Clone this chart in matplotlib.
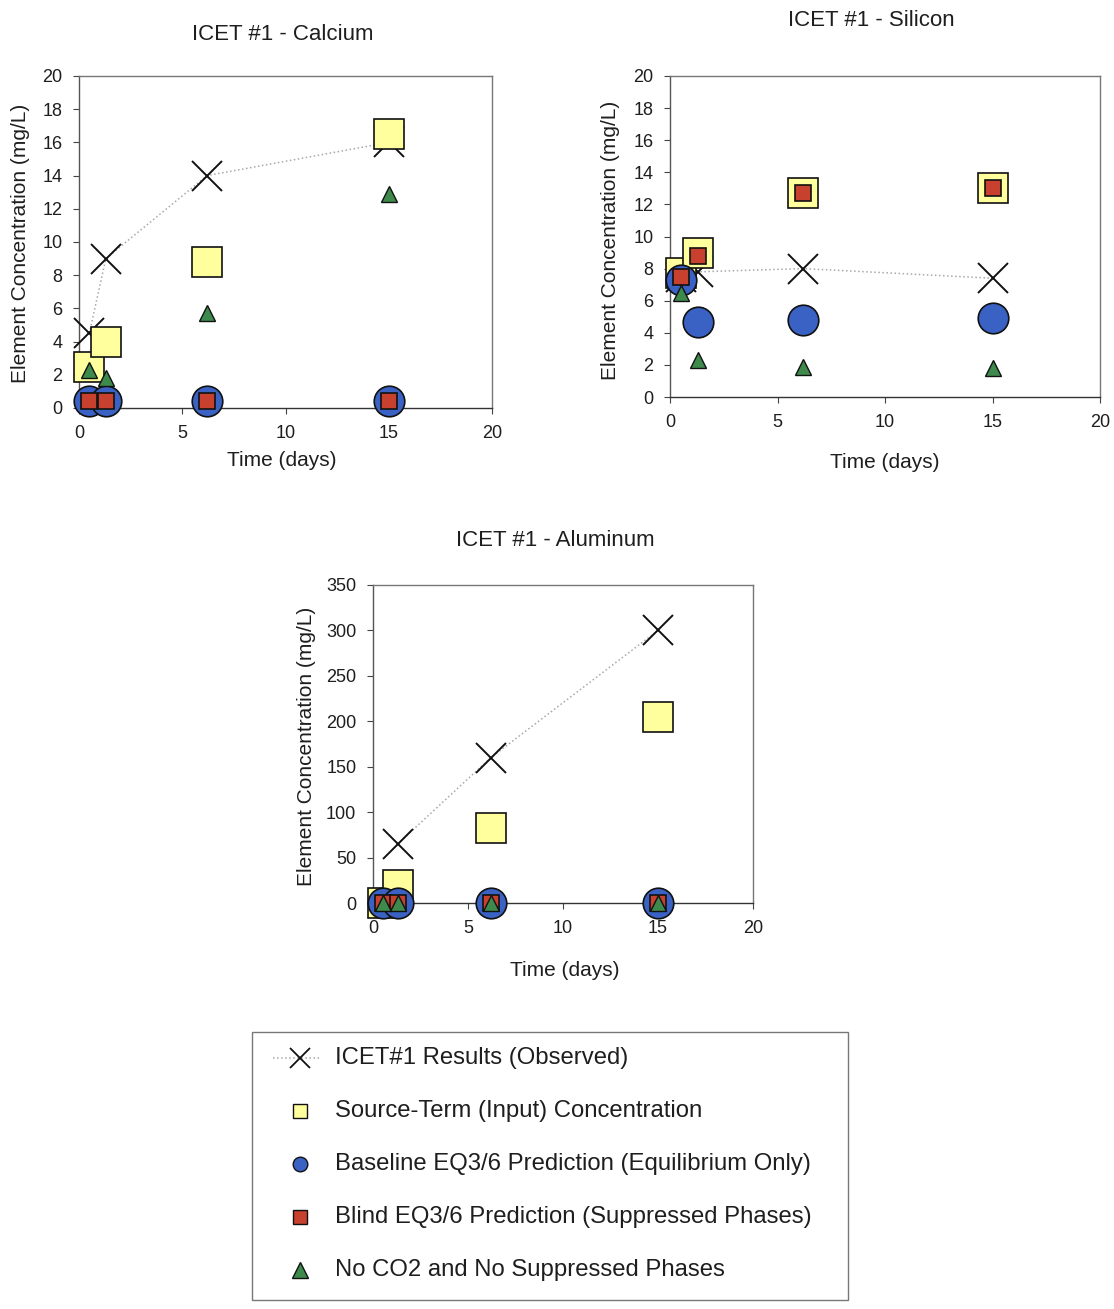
import numpy as np
import matplotlib
matplotlib.use("Agg")
import matplotlib.pyplot as plt
from matplotlib.lines import Line2D
from matplotlib.patches import Rectangle

plt.rcParams['font.family'] = ['Liberation Sans', 'DejaVu Sans']

# ---- data ----
days = [0.5, 1.3, 6.2, 15.0]

ca_obs = [4.5, 9.0, 14.0, 16.0]
ca_src = [2.5, 4.0, 8.8, 16.5]
ca_base = [0.4, 0.4, 0.4, 0.4]
ca_blind = [0.4, 0.4, 0.4, 0.4]
ca_noco2 = [2.3, 1.8, 5.7, 12.9]

si_obs = [7.5, 7.8, 8.0, 7.4]
si_src = [7.7, 9.0, 12.7, 13.0]
si_base = [7.3, 4.7, 4.8, 4.9]
si_blind = [7.5, 8.8, 12.7, 13.0]
si_noco2 = [6.5, 2.3, 1.9, 1.8]

al_obs = [np.nan, 65.0, 160.0, 300.0]
al_src = [0.0, 20.0, 83.0, 205.0]
al_base = [0.0, 0.0, 0.0, 0.0]
al_blind = [0.0, 0.0, 0.0, 0.0]
al_noco2 = [0.0, 0.0, 0.0, 0.0]

labels = ["ICET#1 Results (Observed)",
          "Source-Term (Input) Concentration",
          "Baseline EQ3/6 Prediction (Equilibrium Only)",
          "Blind EQ3/6 Prediction (Suppressed Phases)",
          "No CO2 and No Suppressed Phases"]

titles = ["ICET #1 - Calcium", "ICET #1 - Silicon", "ICET #1 - Aluminum"]
xticks = [0, 5, 10, 15, 20]

YELLOW = '#FFFF9E'
BLUE = '#3A62C4'
RED = '#C8402E'
GREEN = '#3E8A4C'
TXT = '#1e1e1e'

W, H = 1114, 1309
fig = plt.figure(figsize=(W / 100, H / 100), dpi=100)


def ax_at(l, t, r, b):
    return fig.add_axes([l / W, 1 - b / H, (r - l) / W, (b - t) / H])


def draw(ax, obs, src, base, blind, noco2, ymax, ystep):
    ax.plot(days, obs, ls=':', color='#a8a8a8', lw=1.1, zorder=2)
    ax.plot(days, obs, ls='none', marker='x', ms=21, mew=1.4, color='#111111', zorder=3)
    ax.plot(days, src, ls='none', marker='s', ms=22, mfc=YELLOW, mec='#111111', mew=1.2, zorder=4)
    ax.plot(days, base, ls='none', marker='o', ms=22, mfc=BLUE, mec='#111111', mew=1.2, zorder=5)
    ax.plot(days, blind, ls='none', marker='s', ms=12, mfc=RED, mec='#111111', mew=1.2, zorder=6)
    ax.plot(days, noco2, ls='none', marker='^', ms=12, mfc=GREEN, mec='#111111', mew=1.0, zorder=7)
    ax.set_xlim(0, 20)
    ax.set_ylim(0, ymax)
    ax.set_xticks(xticks)
    ax.set_yticks(np.arange(0, ymax + 0.1, ystep))
    ax.tick_params(labelsize=13, length=4, color='#444444', pad=8, labelcolor=TXT)
    for s in ax.spines.values():
        s.set_color('#777777')
        s.set_linewidth(1.0)
    ax.spines['bottom'].set_color('#333333')
    ax.spines['left'].set_color('#555555')
    for ln in ax.lines:
        ln.set_clip_on(False)


ax1 = ax_at(79, 76, 492, 408)
draw(ax1, ca_obs, ca_src, ca_base, ca_blind, ca_noco2, 20, 2)
ax2 = ax_at(670, 76, 1100, 397)
draw(ax2, si_obs, si_src, si_base, si_blind, si_noco2, 20, 2)
ax3 = ax_at(373, 585, 753, 903)
draw(ax3, al_obs, al_src, al_base, al_blind, al_noco2, 350, 50)


def ftext(x, y, s, ha='center', **kw):
    fig.text(x / W, 1 - y / H, s, ha=ha, va='center', color=TXT, **kw)


ftext(283, 35, titles[0], fontsize=16)
ftext(871, 21, titles[1], fontsize=16)
ftext(555, 540, titles[2], fontsize=16)

ftext(282, 460, "Time (days)", fontsize=15)
ftext(885, 462, "Time (days)", fontsize=15)
ftext(565, 970, "Time (days)", fontsize=15)

ftext(21, 243, "Element Concentration (mg/L)", fontsize=15, rotation=90)
ftext(611, 240, "Element Concentration (mg/L)", fontsize=15, rotation=90)
ftext(306, 746, "Element Concentration (mg/L)", fontsize=15, rotation=90)

# ---- legend (drawn in figure pixel positions) ----
fig.add_artist(Rectangle((252 / W, 1 - 1300 / H), (848 - 252) / W, (1300 - 1032) / H,
                         transform=fig.transFigure, facecolor='white',
                         edgecolor='#777777', lw=1.0))
row_y = [1058, 1111, 1164, 1217, 1270]
styles = [
    dict(marker='x', ms=15, mew=1.3, color='#111111'),
    dict(marker='s', ms=10.5, mfc=YELLOW, mec='#111111', mew=1.0),
    dict(marker='o', ms=10.5, mfc=BLUE, mec='#111111', mew=1.0),
    dict(marker='s', ms=10.5, mfc=RED, mec='#111111', mew=1.0),
    dict(marker='^', ms=11, mfc=GREEN, mec='#111111', mew=1.0),
]
mx = 300
for y, st, lab in zip(row_y, styles, labels):
    yf = 1 - y / H
    if st['marker'] == 'x':
        fig.add_artist(Line2D([273 / W, 320 / W], [yf, yf], transform=fig.transFigure,
                              ls=':', color='#a8a8a8', lw=1.1))
    fig.add_artist(Line2D([mx / W], [yf], transform=fig.transFigure, ls='none', **st))
    ftext(335, y, lab, ha='left', fontsize=17.2)

fig.savefig("out.png", dpi=100, facecolor='white')
